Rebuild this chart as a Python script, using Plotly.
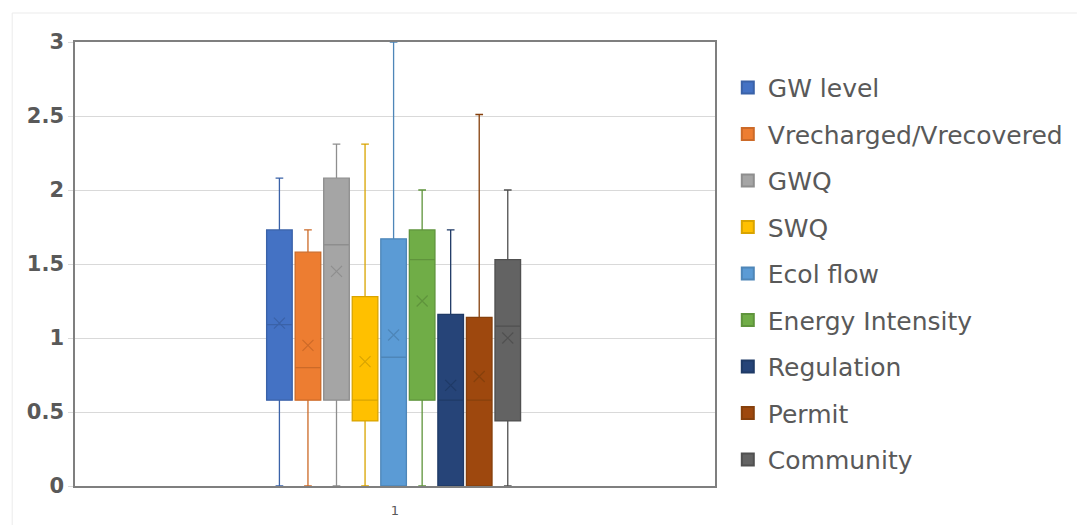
import plotly.graph_objects as go

names = ["GW level", "Vrecharged/Vrecovered", "GWQ", "SWQ", "Ecol flow",
         "Energy Intensity", "Regulation", "Permit", "Community"]
lower = [0, 0, 0, 0, 0, 0, 0, 0, 0]
q1 = [0.58, 0.58, 0.58, 0.44, 0.0, 0.58, 0.0, 0.0, 0.44]
median = [1.09, 0.80, 1.63, 0.58, 0.87, 1.53, 0.58, 0.58, 1.08]
q3 = [1.73, 1.58, 2.08, 1.28, 1.67, 1.73, 1.16, 1.14, 1.53]
upper = [2.08, 1.73, 2.31, 2.31, 3.0, 2.0, 1.73, 2.51, 2.0]
means = [1.10, 0.95, 1.45, 0.84, 1.02, 1.25, 0.68, 0.74, 1.00]
category = "1"

fills = ["#4472C4", "#ED7D31", "#A5A5A5", "#FFC000", "#5B9BD5",
         "#70AD47", "#264478", "#9E480E", "#636363"]
lines = ["#3A62A8", "#CC6A28", "#8E8E8E", "#D9A400", "#4E86B8",
         "#5F943C", "#1F3A66", "#86400C", "#505050"]

fig = go.Figure()
n = len(names)
step = 0.0446
width = 0.0400
center = 0.4978
for i in range(n):
    pos = center + (i - (n - 1) / 2) * step
    fig.add_trace(go.Box(
        name=names[i], x=[pos], q1=[q1[i]], median=[median[i]], q3=[q3[i]],
        lowerfence=[lower[i]], upperfence=[upper[i]],
        width=width, whiskerwidth=0.3,
        fillcolor=fills[i], line=dict(color=lines[i], width=1.3),
        legendgroup=names[i], showlegend=True, hoverinfo="y",
    ))
for i in range(n):
    pos = center + (i - (n - 1) / 2) * step
    fig.add_trace(go.Scatter(
        x=[pos], y=[means[i]], mode="markers",
        marker=dict(symbol="x-thin", size=11, line=dict(color=lines[i], width=1.2)),
        showlegend=False, hoverinfo="skip",
    ))

fig.update_layout(
    width=1080, height=525,
    margin=dict(l=75, r=363, t=42, b=39),
    paper_bgcolor="white", plot_bgcolor="white",
    font=dict(family="DejaVu Sans", color="#595959"),
    legend=dict(x=1.02, xanchor="left", y=0.949, yanchor="top",
                font=dict(size=25, color="#595959", family="DejaVu Sans"),
                tracegroupgap=11, itemsizing="constant"),
    shapes=[
        dict(type="line", xref="paper", yref="paper",
             x0=(12 - 75) / 642, x1=(12 - 75) / 642,
             y0=(486 - 525) / 444, y1=(486 - 13) / 444,
             line=dict(color="#EBEBEB", width=1)),
        dict(type="line", xref="paper", yref="paper",
             x0=(12 - 75) / 642, x1=(1080 - 75) / 642,
             y0=(486 - 13) / 444, y1=(486 - 13) / 444,
             line=dict(color="#EBEBEB", width=1)),
    ],
)
fig.update_xaxes(range=[0, 1], tickvals=[0.5], ticktext=[category],
                 showgrid=False, zeroline=False, showline=True, mirror=True,
                 linecolor="#7F7F7F", linewidth=1.5, automargin=False,
                 ticks="outside", ticklen=12, tickcolor="rgba(0,0,0,0)",
                 tickfont=dict(size=13, color="#595959", family="DejaVu Sans"))
fig.update_yaxes(range=[0, 3], dtick=0.5, showgrid=True, gridcolor="#D9D9D9",
                 zeroline=False, showline=True, mirror=True,
                 linecolor="#7F7F7F", linewidth=1.5, automargin=False,
                 ticks="outside", ticklen=5, tickcolor="#D9D9D9",
                 tickfont=dict(size=21, color="#595959", family="DejaVu Sans", weight="bold"))

fig.write_html("out.html")
